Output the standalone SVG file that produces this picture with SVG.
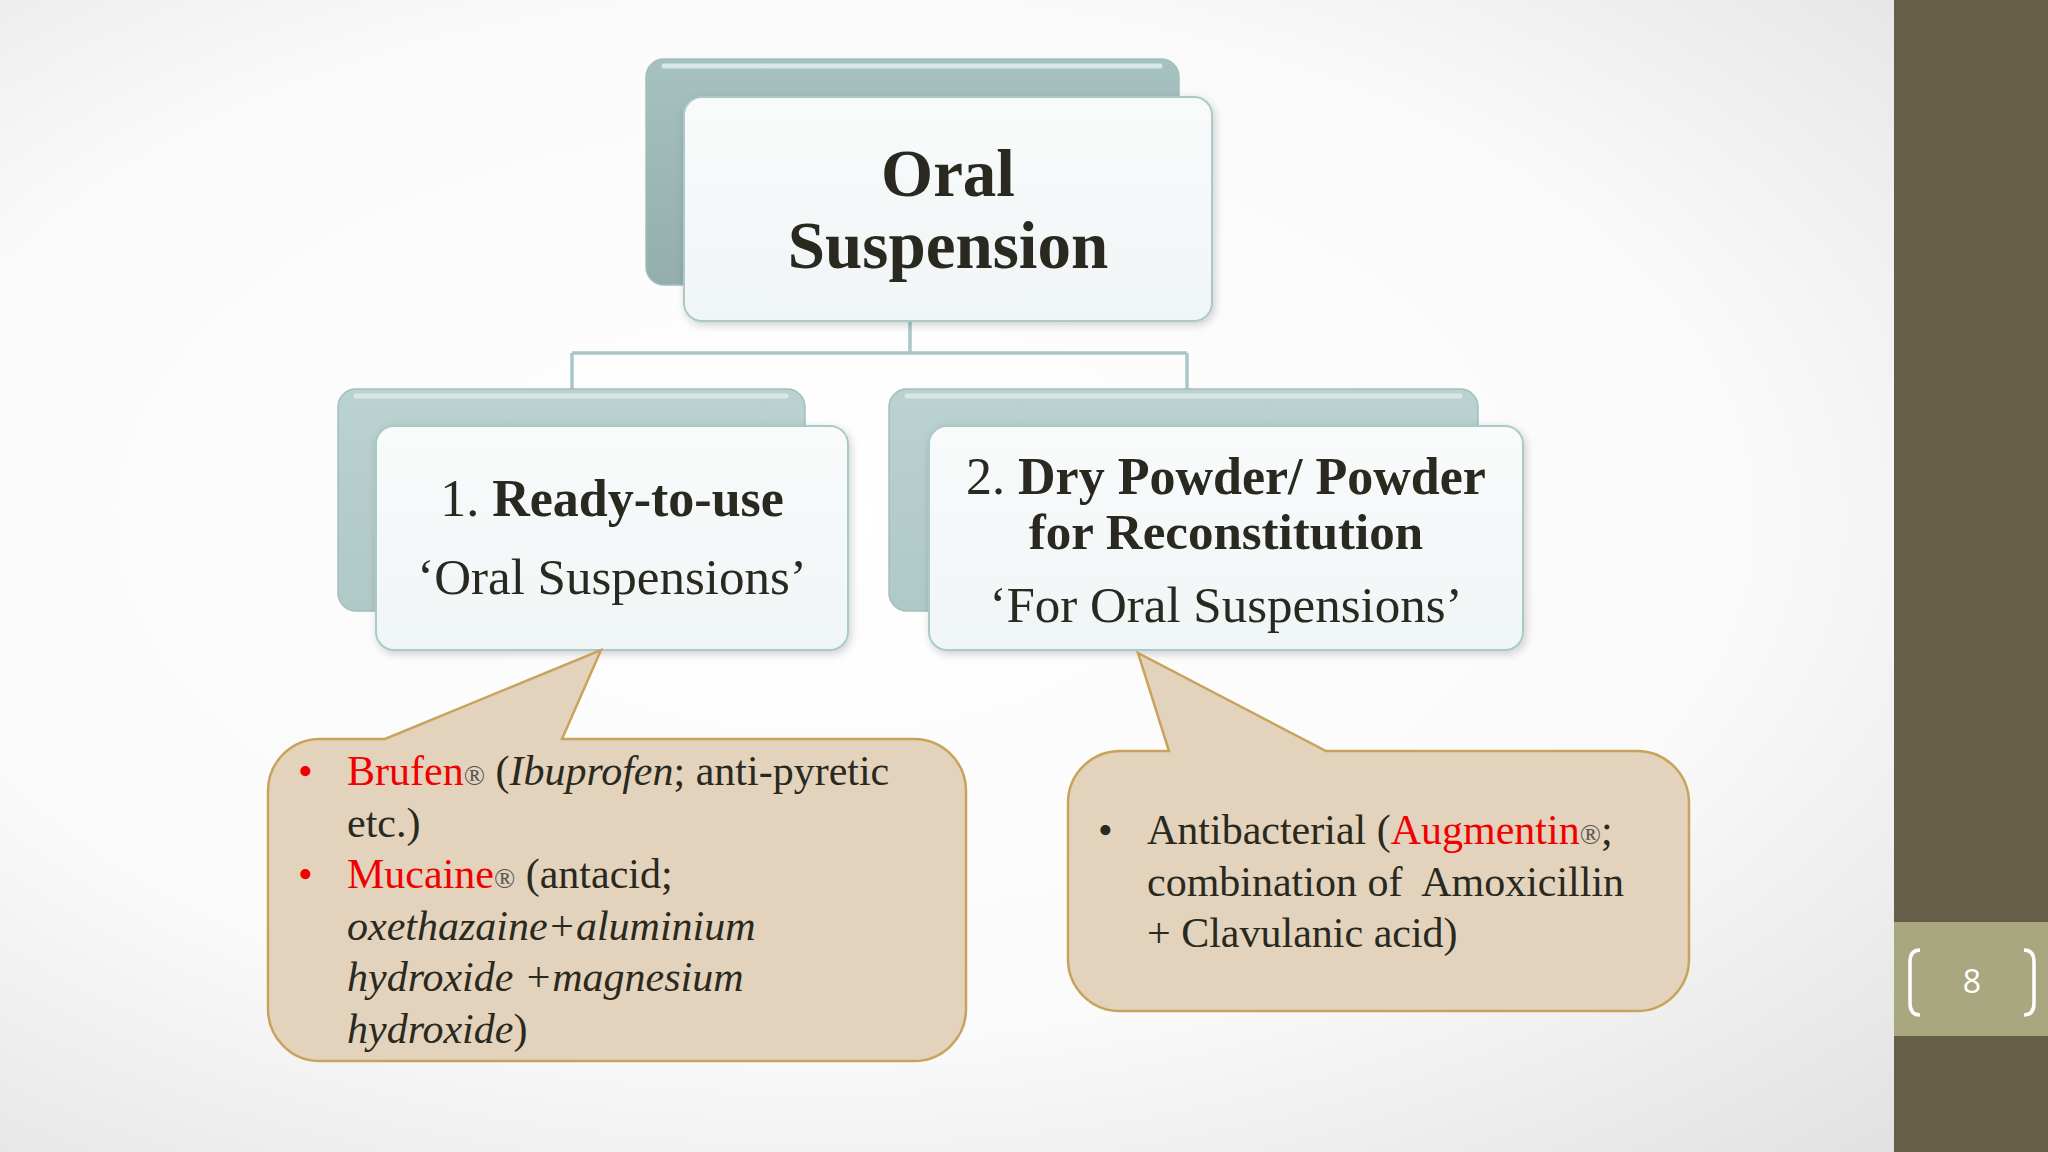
<svg xmlns="http://www.w3.org/2000/svg" width="2048" height="1152" viewBox="0 0 2048 1152">
<defs>
<radialGradient id="bg" cx="0.4" cy="0.45" r="0.75">
<stop offset="0" stop-color="#FFFFFF"/>
<stop offset="0.6" stop-color="#FAFAFA"/>
<stop offset="1" stop-color="#E2E2E2"/>
</radialGradient>
<linearGradient id="backTop" x1="0" y1="0" x2="0" y2="1">
<stop offset="0" stop-color="#A6C2C0"/>
<stop offset="1" stop-color="#93AEAC"/>
</linearGradient>
<linearGradient id="backChild" x1="0" y1="0" x2="0" y2="1">
<stop offset="0" stop-color="#BAD2D0"/>
<stop offset="1" stop-color="#AFC9C7"/>
</linearGradient>
<linearGradient id="front" x1="0" y1="0" x2="0" y2="1">
<stop offset="0" stop-color="#F9FBFB"/>
<stop offset="1" stop-color="#F0F5F5"/>
</linearGradient>
<filter id="sh" x="-10%" y="-10%" width="125%" height="130%">
<feDropShadow dx="2" dy="3" stdDeviation="4" flood-color="#000" flood-opacity="0.18"/>
</filter>
</defs>
<style>
.t{font-family:"Liberation Serif","Times New Roman",serif;fill:#2A2920}
.b{font-weight:bold}
.i{font-style:italic}
.red{fill:#F00000}
.reg{font-size:28px;fill:#555}
.back{stroke:#A3BFBD;stroke-width:1.5}
.hl{stroke:#D9E8E7;stroke-width:5;stroke-linecap:round;fill:none}
.frontbox{fill:url(#front);stroke:#A9CAC8;stroke-width:2;filter:url(#sh)}
.conn{stroke:#A9C7C6;stroke-width:3.5;fill:none}
.call{fill:#E3D3BC;stroke:#C8A35C;stroke-width:2.5}
.pn{font-family:"Open Sans","Liberation Sans",sans-serif;fill:#FFFFFF}
</style>
<rect width="2048" height="1152" fill="url(#bg)"/>
<g id="sidebar">
<rect x="1894" y="0" width="154" height="1152" fill="#665E47"/>
<rect x="1894" y="922" width="154" height="114" fill="#A9A77F"/>
<path d="M1920 950 Q1910 950 1910 962 L1910 1003 Q1910 1015 1920 1015" stroke="#FFFFFF" stroke-width="3.5" fill="none"/>
<path d="M2024 950 Q2034 950 2034 962 L2034 1003 Q2034 1015 2024 1015" stroke="#FFFFFF" stroke-width="3.5" fill="none"/>
<text class="pn" x="1972" y="993" font-size="32" text-anchor="middle">8</text>
</g>
<g id="connectors">
<path class="conn" d="M910 321 L910 353 M572 353 L1187 353 M572 353 L572 389 M1187 353 L1187 389"/>
</g>
<g id="node-top">
<rect class="back" x="646" y="59" width="533" height="226" rx="18" fill="url(#backTop)"/>
<line class="hl" x1="664" y1="66" x2="1160" y2="66"/>
<rect class="frontbox" x="684" y="97" width="528" height="224" rx="18"/>
<text class="t b" x="948" y="196" font-size="67" text-anchor="middle">Oral</text>
<text class="t b" x="948" y="268" font-size="67" text-anchor="middle">Suspension</text>
</g>
<g id="node-ready">
<rect class="back" x="338" y="389" width="467" height="222" rx="18" fill="url(#backChild)"/>
<line class="hl" x1="356" y1="396" x2="786" y2="396"/>
<rect class="frontbox" x="376" y="426" width="472" height="224" rx="18"/>
<text class="t" x="612" y="516" font-size="52" text-anchor="middle">1. <tspan class="b">Ready-to-use</tspan></text>
<text class="t" x="612" y="594" font-size="51" text-anchor="middle">‘Oral Suspensions’</text>
</g>
<g id="node-dry">
<rect class="back" x="889" y="389" width="589" height="222" rx="18" fill="url(#backChild)"/>
<line class="hl" x1="907" y1="396" x2="1460" y2="396"/>
<rect class="frontbox" x="929" y="426" width="594" height="224" rx="18"/>
<text class="t" x="1226" y="494" font-size="52" text-anchor="middle">2. <tspan class="b">Dry Powder/ Powder</tspan></text>
<text class="t b" x="1226" y="549" font-size="51" text-anchor="middle">for Reconstitution</text>
<text class="t" x="1226" y="622" font-size="51" text-anchor="middle">‘For Oral Suspensions’</text>
</g>
<g id="callout-left">
<path class="call" d="M320 739 L385 739 L601 650 L562 739 L914 739 A52 52 0 0 1 966 791 L966 1009 A52 52 0 0 1 914 1061 L320 1061 A52 52 0 0 1 268 1009 L268 791 A52 52 0 0 1 320 739 Z"/>
<text class="t red" x="298" y="785" font-size="42">•</text>
<text class="t red" x="298" y="888" font-size="42">•</text>
<text class="t" x="347" y="785" font-size="42"><tspan class="red">Brufen</tspan><tspan class="reg">®</tspan> (<tspan class="i">Ibuprofen</tspan>; anti-pyretic</text>
<text class="t" x="347" y="837" font-size="42">etc.)</text>
<text class="t" x="347" y="888" font-size="42"><tspan class="red">Mucaine</tspan><tspan class="reg">®</tspan> (antacid;</text>
<text class="t i" x="347" y="940" font-size="42">oxethazaine+aluminium</text>
<text class="t i" x="347" y="991" font-size="42">hydroxide +magnesium</text>
<text class="t" x="347" y="1043" font-size="42"><tspan class="i">hydroxide</tspan>)</text>
</g>
<g id="callout-right">
<path class="call" d="M1120 751 L1169 751 L1138 653 L1326 751 L1637 751 A52 52 0 0 1 1689 803 L1689 959 A52 52 0 0 1 1637 1011 L1120 1011 A52 52 0 0 1 1068 959 L1068 803 A52 52 0 0 1 1120 751 Z"/>
<text class="t" x="1098" y="844" font-size="42">•</text>
<text class="t" x="1147" y="844" font-size="42">Antibacterial (<tspan class="red">Augmentin</tspan><tspan class="reg">®</tspan>;</text>
<text class="t" x="1147" y="896" font-size="42" style="white-space:pre">combination of  Amoxicillin</text>
<text class="t" x="1147" y="947" font-size="42">+ Clavulanic acid)</text>
</g>
</svg>
